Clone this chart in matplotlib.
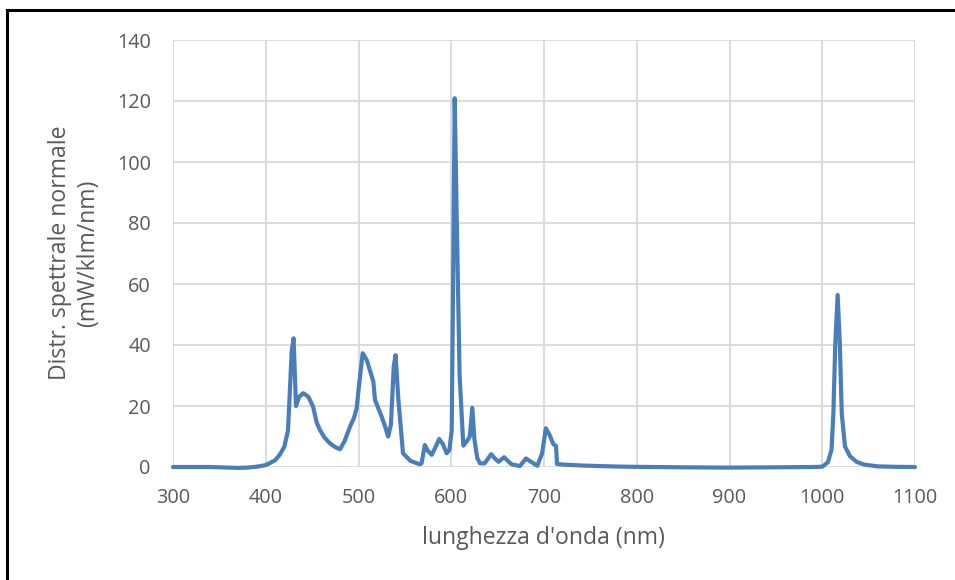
import numpy as np
import matplotlib.pyplot as plt
from matplotlib.lines import Line2D

# wavelength (nm) and normalised spectral distribution (mW/klm/nm)
wavelength = [300, 320, 340, 360, 370, 380, 390, 400, 410, 415, 420, 424, 428, 430, 432.6,
              436, 440.5, 446, 451, 455, 458.5, 463, 469, 475, 480, 485, 490.8, 495, 498,
              501, 504.5, 509, 513, 516, 517.8, 521, 525, 529, 532, 535, 538, 540, 543,
              548, 556, 566, 568, 571.5, 575, 579, 583, 587, 591, 595, 598, 600.5, 602,
              603.7, 606, 609, 613, 617, 620, 622.7, 625, 628, 631, 636, 643, 647, 651,
              657, 661, 665, 674, 680.6, 686, 692.8, 698, 702, 706, 710, 713, 714, 720,
              740, 760, 780, 800, 850, 900, 950, 990, 1000, 1006, 1010, 1012, 1014, 1016.6,
              1019, 1021, 1024.5, 1030, 1037, 1045, 1060, 1080, 1100]
spectrum = [0, 0, 0, -0.2, -0.3, -0.2, 0.1, 0.6, 2.2, 4.0, 6.6, 12, 38, 42.2, 20,
            23, 24.2, 23, 19.8, 14.5, 12.1, 9.8, 7.8, 6.5, 5.8, 8.5, 13.2, 16, 19.2,
            28, 37.3, 35, 31, 28, 22, 19.5, 16.5, 13, 10, 14, 33, 36.7, 22,
            4.5, 2.0, 0.9, 1.2, 7.2, 5.2, 4, 6.5, 9.2, 7.5, 4.5, 5.5, 12, 60,
            120.9, 80, 30, 7.0, 8.5, 10, 19.4, 9, 3, 1.2, 1.2, 4.2, 2.8, 1.7,
            3.2, 2.0, 0.9, 0.3, 2.8, 1.7, 0.4, 4.5, 12.7, 10.5, 7.5, 6.9, 1.0, 0.8,
            0.5, 0.3, 0.15, 0.05, -0.1, -0.2, -0.1, 0, 0.1, 1.5, 5.6, 17.6, 40, 56.4,
            40, 17.6, 6.7, 3.5, 1.7, 0.8, 0.2, 0.05, 0]

x_ticks = np.arange(300, 1101, 100)
y_ticks = np.arange(0, 141, 20)

FONT = ['Open Sans', 'DejaVu Sans']
GREY = '#595959'

fig = plt.figure(figsize=(9.55, 5.8), dpi=100)
ax = fig.add_axes([173 / 955, 1 - 467 / 580, (915 - 173) / 955, (467 - 40) / 580])

ax.plot(wavelength, spectrum, color='#4a7ebb', lw=3, solid_joinstyle='round',
        solid_capstyle='round', zorder=3, clip_on=False)

ax.set_xlim(300, 1100)
ax.set_ylim(0, 140)
ax.set_xticks(x_ticks)
ax.set_yticks(y_ticks)
ax.grid(True, color='#d9d9d9', lw=1.3, zorder=0)
ax.set_axisbelow(True)
for s in ax.spines.values():
    s.set_visible(False)
ax.tick_params(length=0, labelsize=14.3, colors=GREY)
ax.tick_params(axis='x', pad=15)
ax.tick_params(axis='y', pad=16)
for lab in ax.get_xticklabels() + ax.get_yticklabels():
    lab.set_family(FONT)

fig.text(543 / 955, 1 - 538 / 580, "lunghezza d'onda (nm)", fontsize=16.6, color=GREY,
         family=FONT, ha='center', va='center')
fig.text(74 / 955, 1 - 253 / 580, "Distr. spettrale normale\n(mW/klm/nm)", fontsize=16.6,
         color=GREY, family=FONT, ha='center', va='center', rotation=90,
         multialignment='center', linespacing=1.2)

# outer black frame (only left and top edges are inside the picture)
fig.add_artist(Line2D([7 / 955, 7 / 955], [0, 1 - 10 / 580], color='black', lw=2.2,
                      transform=fig.transFigure))
fig.add_artist(Line2D([7 / 955, 1], [1 - 10 / 580, 1 - 10 / 580], color='black', lw=2.2,
                      transform=fig.transFigure))

fig.savefig('out.png', dpi=100)
